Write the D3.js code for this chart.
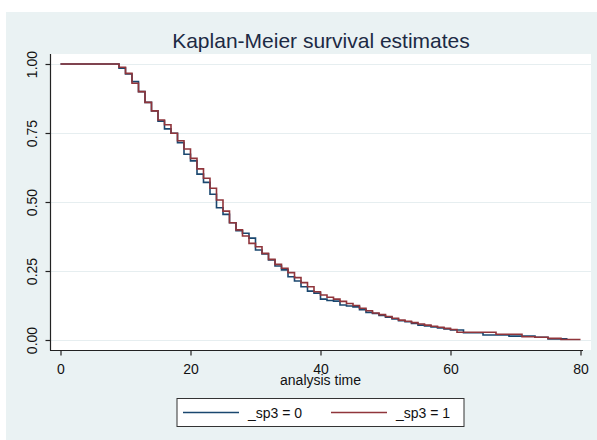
<!DOCTYPE html>
<html>
<head>
<meta charset="utf-8">
<script src="https://cdn.jsdelivr.net/npm/d3@7"></script>
<style>
  html, body { margin: 0; padding: 0; background: #ffffff; }
  svg { display: block; font-family: "Liberation Sans", Arial, sans-serif; }
</style>
</head>
<body>
<svg id="chart" width="597" height="440"></svg>
<script>
// ---------------- data ----------------
const title = "Kaplan-Meier survival estimates";
const xLabel = "analysis time";
const xTicks = [0, 20, 40, 60, 80];
const yTicks = [0, 0.25, 0.5, 0.75, 1];
const yTickLabels = ["0.00", "0.25", "0.50", "0.75", "1.00"];
const seriesNames = ["_sp3 = 0", "_sp3 = 1"];

// _sp3 = 0 (blue)
const times0 = [0, 9, 10, 11, 12, 13, 14, 15, 16, 17, 18, 19, 20, 21, 22, 23, 24, 25, 26, 27, 28, 29,
  30, 31, 32, 33, 34, 35, 36, 37, 38, 39, 40, 41, 42, 43, 44, 45, 46, 47, 48, 49, 50, 51, 52, 53, 54,
  55, 56, 57, 58, 59, 60, 62, 65, 69, 73, 75, 78];
const surv0 = [1, 0.985, 0.964, 0.936, 0.900, 0.861, 0.830, 0.793, 0.765, 0.749, 0.715, 0.673, 0.649,
  0.601, 0.571, 0.528, 0.479, 0.455, 0.425, 0.396, 0.387, 0.369, 0.326, 0.312, 0.290, 0.268, 0.254,
  0.229, 0.214, 0.193, 0.177, 0.170, 0.148, 0.143, 0.141, 0.127, 0.123, 0.120, 0.110, 0.100, 0.096,
  0.089, 0.083, 0.076, 0.070, 0.066, 0.060, 0.054, 0.051, 0.047, 0.044, 0.040, 0.036, 0.026, 0.018,
  0.014, 0.010, 0.004, 0.004];

// _sp3 = 1 (red)
const times1 = [0, 9, 10, 11, 12, 13, 14, 15, 16, 17, 18, 19, 20, 21, 22, 23, 24, 25, 26, 27, 28, 29,
  30, 31, 32, 33, 34, 35, 36, 37, 38, 39, 40, 41, 42, 43, 44, 45, 46, 47, 48, 49, 50, 51, 52, 53, 54,
  55, 56, 57, 58, 59, 60, 61, 67, 71, 73, 75, 77, 80];
const surv1 = [1, 0.988, 0.966, 0.930, 0.900, 0.861, 0.830, 0.797, 0.780, 0.749, 0.722, 0.692, 0.658,
  0.620, 0.586, 0.550, 0.507, 0.467, 0.425, 0.399, 0.377, 0.350, 0.338, 0.314, 0.292, 0.274, 0.260,
  0.244, 0.226, 0.208, 0.193, 0.175, 0.163, 0.155, 0.148, 0.140, 0.132, 0.125, 0.115, 0.106, 0.098,
  0.092, 0.085, 0.079, 0.072, 0.068, 0.063, 0.058, 0.054, 0.050, 0.046, 0.042, 0.038, 0.028, 0.021,
  0.012, 0.010, 0.006, 0.002, 0.002];

const colors = ["#1a476f", "#90353b"];

// ---------------- drawing ----------------
const svg = d3.select("#chart");

// graph region
svg.append("rect").attr("x", 6).attr("y", 12).attr("width", 591).attr("height", 428)
  .attr("fill", "#eaf2f3");
// plot region
svg.append("rect").attr("x", 50.5).attr("y", 54).attr("width", 540.5).attr("height", 296)
  .attr("fill", "#ffffff");

const x = d3.scaleLinear().domain([0, 80]).range([60.5, 580.5]);
const y = d3.scaleLinear().domain([0, 1]).range([340, 64]);

// grid lines
svg.append("g").selectAll("line").data(yTicks).join("line")
  .attr("x1", 51).attr("x2", 591)
  .attr("y1", d => Math.round(y(d)) + 0.5).attr("y2", d => Math.round(y(d)) + 0.5)
  .attr("stroke", "#e6eef0").attr("stroke-width", 1.2);

// curves
const line = d3.line().x(d => x(d[0])).y(d => y(d[1])).curve(d3.curveStepAfter);
const data0 = times0.map((t, i) => [t, surv0[i]]);
const data1 = times1.map((t, i) => [t, surv1[i]]);
[data0, data1].forEach((d, i) => {
  svg.append("path").datum(d).attr("d", line)
    .attr("fill", "none").attr("stroke", colors[i]).attr("stroke-width", 1.6)
    .attr("stroke-linejoin", "miter");
});

// axes lines
svg.append("line").attr("x1", 50.5).attr("x2", 50.5).attr("y1", 54).attr("y2", 350.5)
  .attr("stroke", "#222").attr("stroke-width", 1.2);
svg.append("line").attr("x1", 50).attr("x2", 583).attr("y1", 350.5).attr("y2", 350.5)
  .attr("stroke", "#222").attr("stroke-width", 1.2);

// x axis ticks + labels
const xAxis = d3.axisBottom(x).tickValues(xTicks).tickSize(5).tickPadding(9)
  .tickFormat(d3.format("d"));
const gx = svg.append("g").attr("transform", "translate(0,350.5)").call(xAxis);
gx.select(".domain").remove();
gx.selectAll(".tick line").attr("stroke", "#222").attr("stroke-width", 1.2);
gx.selectAll(".tick text").attr("font-size", 14).attr("fill", "#111")
  .attr("font-family", "Liberation Sans, Arial, sans-serif");

// y axis ticks + labels (rotated)
const yAxis = d3.axisLeft(y).tickValues(yTicks).tickSize(5).tickPadding(0)
  .tickFormat((d, i) => yTickLabels[i]);
const gy = svg.append("g").attr("transform", "translate(50.5,0)").call(yAxis);
gy.select(".domain").remove();
gy.selectAll(".tick line").attr("stroke", "#222").attr("stroke-width", 1.2);
gy.selectAll(".tick text")
  .attr("x", null).attr("dy", null)
  .attr("transform", "translate(-13.5,0) rotate(-90)")
  .attr("text-anchor", "middle")
  .attr("font-size", 14).attr("fill", "#111")
  .attr("font-family", "Liberation Sans, Arial, sans-serif");

// axis title
svg.append("text").attr("x", 320.5).attr("y", 385).attr("text-anchor", "middle")
  .attr("font-size", 14).attr("fill", "#111").text(xLabel);

// title
svg.append("text").attr("x", 321).attr("y", 48).attr("text-anchor", "middle")
  .attr("font-size", 21).attr("fill", "#1c2a44").text(title);

// legend
const lg = svg.append("g");
lg.append("rect").attr("x", 177).attr("y", 398.5).attr("width", 287).attr("height", 28)
  .attr("fill", "#ffffff").attr("stroke", "#333").attr("stroke-width", 1);
const legX = [183, 331];
seriesNames.forEach((name, i) => {
  lg.append("line").attr("x1", legX[i]).attr("x2", legX[i] + 56)
    .attr("y1", 412.5).attr("y2", 412.5).attr("stroke", colors[i]).attr("stroke-width", 1.4);
  lg.append("text").attr("x", legX[i] + 65).attr("y", 418).attr("font-size", 14)
    .attr("fill", "#111").text(name);
});
</script>
</body>
</html>
